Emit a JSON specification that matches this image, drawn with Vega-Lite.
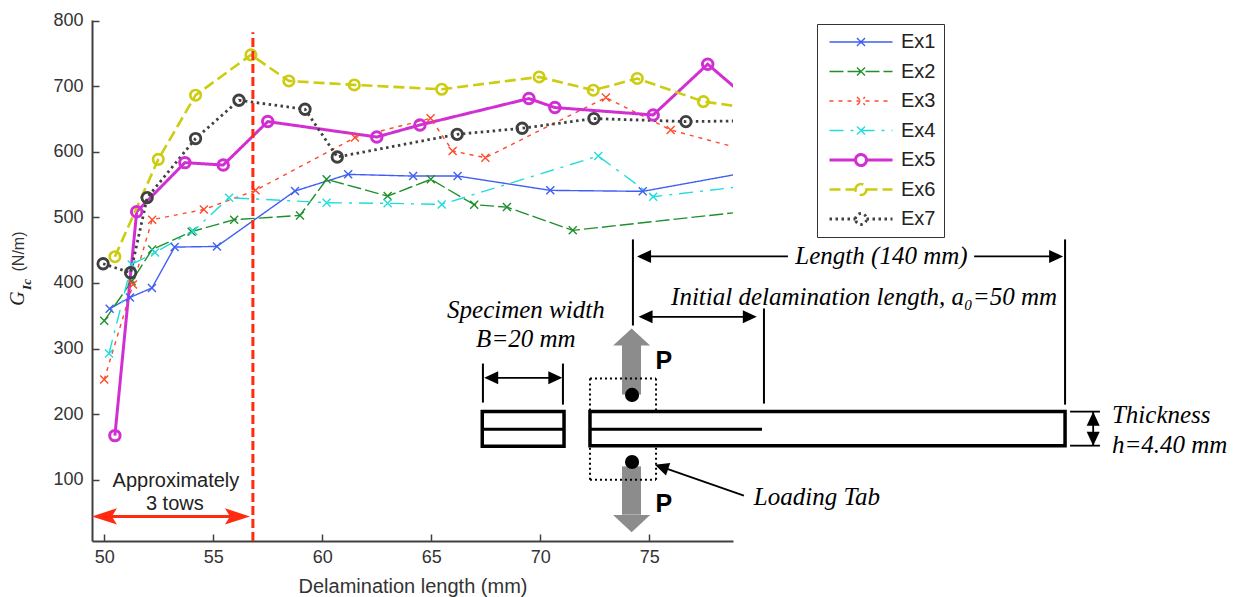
{
"$schema":"https://vega.github.io/schema/vega-lite/v6.json",
"width":641,"height":521,
"autosize":{"type":"none"},
"padding":{"left":92,"top":20,"right":503,"bottom":56},
"background":"white",
"config":{"view":{"stroke":null},"text":{"font":"Liberation Serif"},
 "legend":{"orient":"none","legendX":725,"legendY":4,"padding":8,"symbolOffset":26,"symbolSize":100,"labelFont":"Liberation Sans","labelFontSize":20,"labelColor":"#222222","labelOffset":30,"rowPadding":9.5,"clipHeight":20,"strokeColor":"#333333","fillColor":"white"}},
"datasets":{"series":[
{"s":"Ex1","x":50.25,"y":360.6},{"s":"Ex1","x":51.18,"y":377.9},{"s":"Ex1","x":52.19,"y":392.4},{"s":"Ex1","x":53.23,"y":454.7},{"s":"Ex1","x":55.17,"y":455.7},{"s":"Ex1","x":58.75,"y":540.2},{"s":"Ex1","x":61.19,"y":565.6},{"s":"Ex1","x":64.17,"y":563},{"s":"Ex1","x":66.21,"y":563},{"s":"Ex1","x":70.46,"y":541.2},{"s":"Ex1","x":74.7,"y":539.7},{"s":"Ex1","x":78.93,"y":565.2},
{"s":"Ex2","x":50,"y":342.3},{"s":"Ex2","x":51.26,"y":402.7},{"s":"Ex2","x":52.2,"y":451.1},{"s":"Ex2","x":54.01,"y":478.2},{"s":"Ex2","x":55.96,"y":496.5},{"s":"Ex2","x":58.98,"y":503},{"s":"Ex2","x":60.2,"y":558},{"s":"Ex2","x":63,"y":532.5},{"s":"Ex2","x":64.98,"y":558},{"s":"Ex2","x":66.97,"y":519.4},{"s":"Ex2","x":68.47,"y":515.7},{"s":"Ex2","x":71.49,"y":480.2},{"s":"Ex2","x":78.93,"y":507.2},
{"s":"Ex3","x":50,"y":252.7},{"s":"Ex3","x":51.32,"y":397.7},{"s":"Ex3","x":52.2,"y":496.5},{"s":"Ex3","x":54.57,"y":512},{"s":"Ex3","x":56.94,"y":541.2},{"s":"Ex3","x":61.5,"y":621.7},{"s":"Ex3","x":64.97,"y":651.1},{"s":"Ex3","x":65.98,"y":601.2},{"s":"Ex3","x":67.48,"y":591.1},{"s":"Ex3","x":73.01,"y":682.7},{"s":"Ex3","x":75.98,"y":633.3},{"s":"Ex3","x":78.93,"y":607},
{"s":"Ex4","x":50.22,"y":292.4},{"s":"Ex4","x":51.26,"y":428.2},{"s":"Ex4","x":52.33,"y":446.6},{"s":"Ex4","x":54.08,"y":479.1},{"s":"Ex4","x":55.73,"y":530.1},{"s":"Ex4","x":60.2,"y":522.4},{"s":"Ex4","x":63,"y":521.4},{"s":"Ex4","x":65.48,"y":519.8},{"s":"Ex4","x":72.66,"y":593.6},{"s":"Ex4","x":75.18,"y":531.6},{"s":"Ex4","x":78.93,"y":545.8},
{"s":"Ex5","x":50.49,"y":167.2},{"s":"Ex5","x":51.49,"y":508.7},{"s":"Ex5","x":53.7,"y":583.5},{"s":"Ex5","x":55.46,"y":579.8},{"s":"Ex5","x":57.5,"y":646.1},{"s":"Ex5","x":62.5,"y":622.6},{"s":"Ex5","x":64.48,"y":640.9},{"s":"Ex5","x":69.48,"y":681.2},{"s":"Ex5","x":70.67,"y":667.5},{"s":"Ex5","x":75.18,"y":656.2},{"s":"Ex5","x":77.68,"y":733.6},{"s":"Ex5","x":78.93,"y":698},
{"s":"Ex6","x":50.49,"y":440},{"s":"Ex6","x":52.48,"y":588.5},{"s":"Ex6","x":54.19,"y":686.3},{"s":"Ex6","x":56.73,"y":747.8},{"s":"Ex6","x":58.47,"y":708.1},{"s":"Ex6","x":61.47,"y":702},{"s":"Ex6","x":65.48,"y":695.4},{"s":"Ex6","x":69.95,"y":714.2},{"s":"Ex6","x":72.43,"y":693.9},{"s":"Ex6","x":74.45,"y":711.8},{"s":"Ex6","x":77.48,"y":676.6},{"s":"Ex6","x":78.93,"y":669.9},
{"s":"Ex7","x":49.95,"y":429.3},{"s":"Ex7","x":51.21,"y":415.6},{"s":"Ex7","x":51.97,"y":530.1},{"s":"Ex7","x":54.19,"y":620.2},{"s":"Ex7","x":56.18,"y":678.6},{"s":"Ex7","x":59.21,"y":664.9},{"s":"Ex7","x":60.69,"y":592.1},{"s":"Ex7","x":66.19,"y":626.7},{"s":"Ex7","x":69.17,"y":635.9},{"s":"Ex7","x":72.46,"y":650.7},{"s":"Ex7","x":76.68,"y":646.1},{"s":"Ex7","x":78.93,"y":647}
]},
"encoding":{
"x":{"field":"x","type":"quantitative","scale":{"domain":[49.44,78.84],"nice":false,"zero":false},
 "axis":{"values":[50,55,60,65,70,75],"format":"d","grid":false,"title":"Delamination length (mm)","titleFont":"Liberation Sans","titleFontSize":20,"titleFontWeight":"normal","titleColor":"#333333","titlePadding":10,"labelFont":"Liberation Sans","labelFontSize":18,"labelColor":"#333333","tickSize":-7,"labelPadding":14,"tickColor":"#404040","tickWidth":1.5,"domainColor":"#404040","domainWidth":2}},
"y":{"field":"y","type":"quantitative","scale":{"domain":[6.5,801],"nice":false,"zero":false},
 "axis":{"values":[100,200,300,400,500,600,700,800],"format":"d","grid":false,"title":null,"labelFont":"Liberation Sans","labelFontSize":18,"labelColor":"#333333","tickSize":-7,"labelPadding":16,"tickColor":"#404040","tickWidth":1.5,"domainColor":"#404040","domainWidth":2}}
},
"layer":[
{"data":{"name":"series"},"mark":{"type":"line","clip":true},"encoding":{
 "color":{"field":"s","type":"nominal","title":null,"scale":{"domain":["Ex1","Ex2","Ex3","Ex4","Ex5","Ex6","Ex7"],"range":["#3f5ff2","#1f8f2c","#ff4a2a","#22dcdc","#d22fd2","#cccc10","#404040"]}},
 "strokeDash":{"field":"s","type":"nominal","title":null,"scale":{"domain":["Ex1","Ex2","Ex3","Ex4","Ex5","Ex6","Ex7"],"range":[[1,0],[14,4],[4,5],[14,7,3,7],[1,0],[11,5],[2.5,3.5]]}},
 "strokeWidth":{"field":"s","type":"nominal","title":null,"scale":{"type":"ordinal","domain":["Ex1","Ex2","Ex3","Ex4","Ex5","Ex6","Ex7"],"range":[1.4,1.4,1.4,1.4,3,2.6,2.8]}}
}},
{"data":{"name":"series"},"transform":[{"filter":"datum.x<78.8 && indexof(['Ex1','Ex2','Ex3','Ex4'],datum.s)>=0"}],
 "mark":{"type":"point","shape":"M-1,-1L1,1M-1,1L1,-1","size":64,"filled":false,"opacity":1},"encoding":{
 "color":{"field":"s","type":"nominal","title":null},
 "strokeWidth":{"field":"s","type":"nominal","title":null,"scale":{"type":"ordinal","domain":["Ex1","Ex2","Ex3","Ex4","Ex5","Ex6","Ex7"],"range":[1.4,1.4,1.4,1.4,3,2.6,2.8]}}
}},
{"data":{"name":"series"},"transform":[{"filter":"datum.x<78.8 && indexof(['Ex5','Ex6','Ex7'],datum.s)>=0"}],
 "mark":{"type":"point","shape":"circle","size":110,"filled":false,"opacity":1},"encoding":{
 "color":{"field":"s","type":"nominal","title":null},
 "strokeWidth":{"field":"s","type":"nominal","title":null,"scale":{"type":"ordinal","domain":["Ex1","Ex2","Ex3","Ex4","Ex5","Ex6","Ex7"],"range":[1.4,1.4,1.4,1.4,3,2.6,2.8]}}
}},
{"data":{"name":"series"},"transform":[{"filter":"datum.x>1000"}],"mark":{"type":"point","filled":false,"opacity":1,"size":100},"encoding":{
 "shape":{"field":"s","type":"nominal","title":null,"scale":{"domain":["Ex1","Ex2","Ex3","Ex4","Ex5","Ex6","Ex7"],"range":[
  "M-6.3,0L6.3,0M-0.8,-0.8L0.8,0.8M-0.8,0.8L0.8,-0.8","M-6.3,0L6.3,0M-0.8,-0.8L0.8,0.8M-0.8,0.8L0.8,-0.8","M-6.3,0L6.3,0M-0.8,-0.8L0.8,0.8M-0.8,0.8L0.8,-0.8","M-6.3,0L6.3,0M-0.8,-0.8L0.8,0.8M-0.8,0.8L0.8,-0.8",
  "M-6.3,0L-1.1,0M1.1,0L6.3,0M-1.1,0A1.1,1.1 0 1 1 1.1,0A1.1,1.1 0 1 1 -1.1,0","M-6.3,0L-1.1,0M1.1,0L6.3,0M-1.1,0A1.1,1.1 0 1 1 1.1,0A1.1,1.1 0 1 1 -1.1,0","M-6.3,0L-1.1,0M1.1,0L6.3,0M-1.1,0A1.1,1.1 0 1 1 1.1,0A1.1,1.1 0 1 1 -1.1,0"]}},
 "color":{"field":"s","type":"nominal","title":null},
 "strokeDash":{"field":"s","type":"nominal","title":null},
 "strokeWidth":{"field":"s","type":"nominal","title":null,"scale":{"type":"ordinal","domain":["Ex1","Ex2","Ex3","Ex4","Ex5","Ex6","Ex7"],"range":[1.4,1.4,1.4,1.4,3,2.6,2.8]}}
}},
{"data":{"values":[{"x":56.82,"y":6.5,"y2":782.4}]},"mark":{"type":"rule","color":"#ff2a10","strokeWidth":3,"strokeDash":[9,4]},"encoding":{"y2":{"field":"y2"}}},
{"data":{"values":[{"x":50,"x2":56,"y":44}]},"mark":{"type":"rule","color":"#ff2a10","strokeWidth":3},"encoding":{"x2":{"field":"x2"}}},
{"data":{"values":[{"x":50.01,"y":44,"heading":270},{"x":56.11,"y":44,"heading":90}]},"mark":{"type":"point","shape":"M0,-1L0.65,1L0,0.6L-0.65,1Z","size":625,"filled":true,"color":"#ff2a10","opacity":1},"encoding":{"angle":{"field":"heading","type":"quantitative","scale":null}}},
{"data":{"values":[{"x":53.29,"y":98.5,"t":"Approximately"},{"x":53.24,"y":63.4,"t":"3 tows"}]},"mark":{"type":"text","font":"Liberation Sans","fontSize":20,"color":"#222222","baseline":"middle"},"encoding":{"text":{"field":"t"}}},
{"data":{"values":[{"x":46.04,"y":376.3,"t":"G"}]},"mark":{"type":"text","font":"Liberation Serif","fontStyle":"italic","fontSize":20,"color":"#222222","angle":270,"baseline":"middle"},"encoding":{"text":{"field":"t"}}},
{"data":{"values":[{"x":46.45,"y":397.7,"t":"Ic"}]},"mark":{"type":"text","font":"Liberation Serif","fontStyle":"italic","fontWeight":"bold","fontSize":13,"color":"#222222","angle":270,"baseline":"middle"},"encoding":{"text":{"field":"t"}}},
{"data":{"values":[{"x":46.09,"y":448,"t":"(N/m)"}]},"mark":{"type":"text","font":"Liberation Sans","fontSize":16,"color":"#333333","angle":270,"baseline":"middle"},"encoding":{"text":{"field":"t"}}},
{"data":{"values":[{"x":73.75,"x2":74.62,"y":306.1,"y2":229.8},{"x":73.75,"x2":74.62,"y":120.3,"y2":46.6}]},"mark":{"type":"rect","color":"#8c8c8c"},"encoding":{"x2":{"field":"x2"},"y2":{"field":"y2"}}},
{"data":{"values":[{"x":74.19,"y":317.6,"heading":0},{"x":74.19,"y":33,"heading":180}]},"mark":{"type":"point","shape":"M0,-0.46L1,0.46L-1,0.46Z","size":1369,"filled":true,"color":"#8c8c8c","opacity":1},"encoding":{"angle":{"field":"heading","type":"quantitative","scale":null}}},
{"data":{"values":[{"x":74.21,"y":229.3},{"x":74.21,"y":127}]},"mark":{"type":"point","shape":"circle","size":200,"filled":true,"color":"black","opacity":1}},
{"data":{"values":[
 {"x":72.28,"x2":75.31,"y":254.2,"y2":254.2},{"x":72.28,"x2":72.28,"y":254.2,"y2":203.8},{"x":75.31,"x2":75.31,"y":254.2,"y2":203.8},
 {"x":72.28,"x2":75.31,"y":100,"y2":100},{"x":72.28,"x2":72.28,"y":100,"y2":151.9},{"x":75.31,"x2":75.31,"y":100,"y2":151.9}]},
 "mark":{"type":"rule","color":"black","strokeWidth":2,"strokeDash":[2,3]},"encoding":{"x2":{"field":"x2"},"y2":{"field":"y2"}}},
{"data":{"values":[{"x":67.34,"x2":71.09,"y":204,"y2":151},{"x":72.28,"x2":94.07,"y":203.8,"y2":151.9}]},"mark":{"type":"rect","filled":false,"stroke":"black","strokeWidth":3.5},"encoding":{"x2":{"field":"x2"},"y2":{"field":"y2"}}},
{"data":{"values":[{"x":67.34,"x2":71.09,"y":177.1,"y2":177.1},{"x":72.28,"x2":80.17,"y":177.1,"y2":177.1}]},"mark":{"type":"rule","color":"black","strokeWidth":3},"encoding":{"x2":{"field":"x2"},"y2":{"field":"y2"}}},
{"data":{"values":[
 {"x":74.25,"x2":74.25,"y":466.4,"y2":335.1},{"x":94.07,"x2":94.07,"y":466.4,"y2":214.5},{"x":80.26,"x2":80.26,"y":361.1,"y2":216},
 {"x":67.37,"x2":67.37,"y":277.1,"y2":217.6},{"x":71.04,"x2":71.04,"y":277.1,"y2":214.5}]},
 "mark":{"type":"rule","color":"black","strokeWidth":2},"encoding":{"x2":{"field":"x2"},"y2":{"field":"y2"}}},
{"data":{"values":[
 {"x":74.6,"x2":81.36,"y":440.5,"y2":440.5},{"x":89.9,"x2":93.8,"y":440.5,"y2":440.5},{"x":74.7,"x2":79.8,"y":348.4,"y2":348.4},{"x":67.6,"x2":70.9,"y":255.3,"y2":255.3},
 {"x":94.3,"x2":95.67,"y":203.8,"y2":203.8},{"x":94.3,"x2":95.67,"y":151.9,"y2":151.9},{"x":95.36,"x2":95.36,"y":203.8,"y2":151.9},{"x":79.34,"x2":75.56,"y":75.6,"y2":119.4}]},
 "mark":{"type":"rule","color":"black","strokeWidth":1.8},"encoding":{"x2":{"field":"x2"},"y2":{"field":"y2"}}},
{"data":{"values":[
 {"x":74.76,"y":440.5,"heading":270},{"x":93.66,"y":440.5,"heading":90},{"x":74.83,"y":348.4,"heading":270},{"x":79.61,"y":348.4,"heading":90},
 {"x":67.75,"y":255.3,"heading":270},{"x":70.69,"y":255.3,"heading":90},{"x":95.36,"y":193.1,"heading":0},{"x":95.36,"y":162.6,"heading":180},{"x":75.56,"y":119.4,"heading":289}]},
 "mark":{"type":"point","shape":"M0,-1L0.93,1L-0.93,1Z","size":196,"filled":true,"color":"black","opacity":1},"encoding":{"angle":{"field":"heading","type":"quantitative","scale":null}}},
{"data":{"values":[{"x":75.67,"y":281.7,"t":"P"},{"x":75.67,"y":62.6,"t":"P"}]},"mark":{"type":"text","font":"Liberation Sans","fontWeight":"bold","fontSize":25,"color":"black","baseline":"middle"},"encoding":{"text":{"field":"t"}}},
{"data":{"values":[{"x":69.34,"y":359.5,"t":"Specimen width"},{"x":69.34,"y":315.3,"t":"B=20 mm"},{"x":85.65,"y":440.5,"t":"Length (140 mm)"},{"x":84.85,"y":377.9,"t":"Initial delamination length, a₀=50 mm"},{"x":82.69,"y":74,"t":"Loading Tab"}]},"mark":{"type":"text","font":"Liberation Serif","fontStyle":"italic","fontSize":25,"color":"black","baseline":"middle"},"encoding":{"text":{"field":"t"}}},
{"data":{"values":[{"x":96.22,"y":199.2,"t":"Thickness"},{"x":96.22,"y":153.4,"t":"h=4.40 mm"}]},"mark":{"type":"text","font":"Liberation Serif","fontStyle":"italic","fontSize":25,"color":"black","align":"left","baseline":"middle"},"encoding":{"text":{"field":"t"}}}
]
}
